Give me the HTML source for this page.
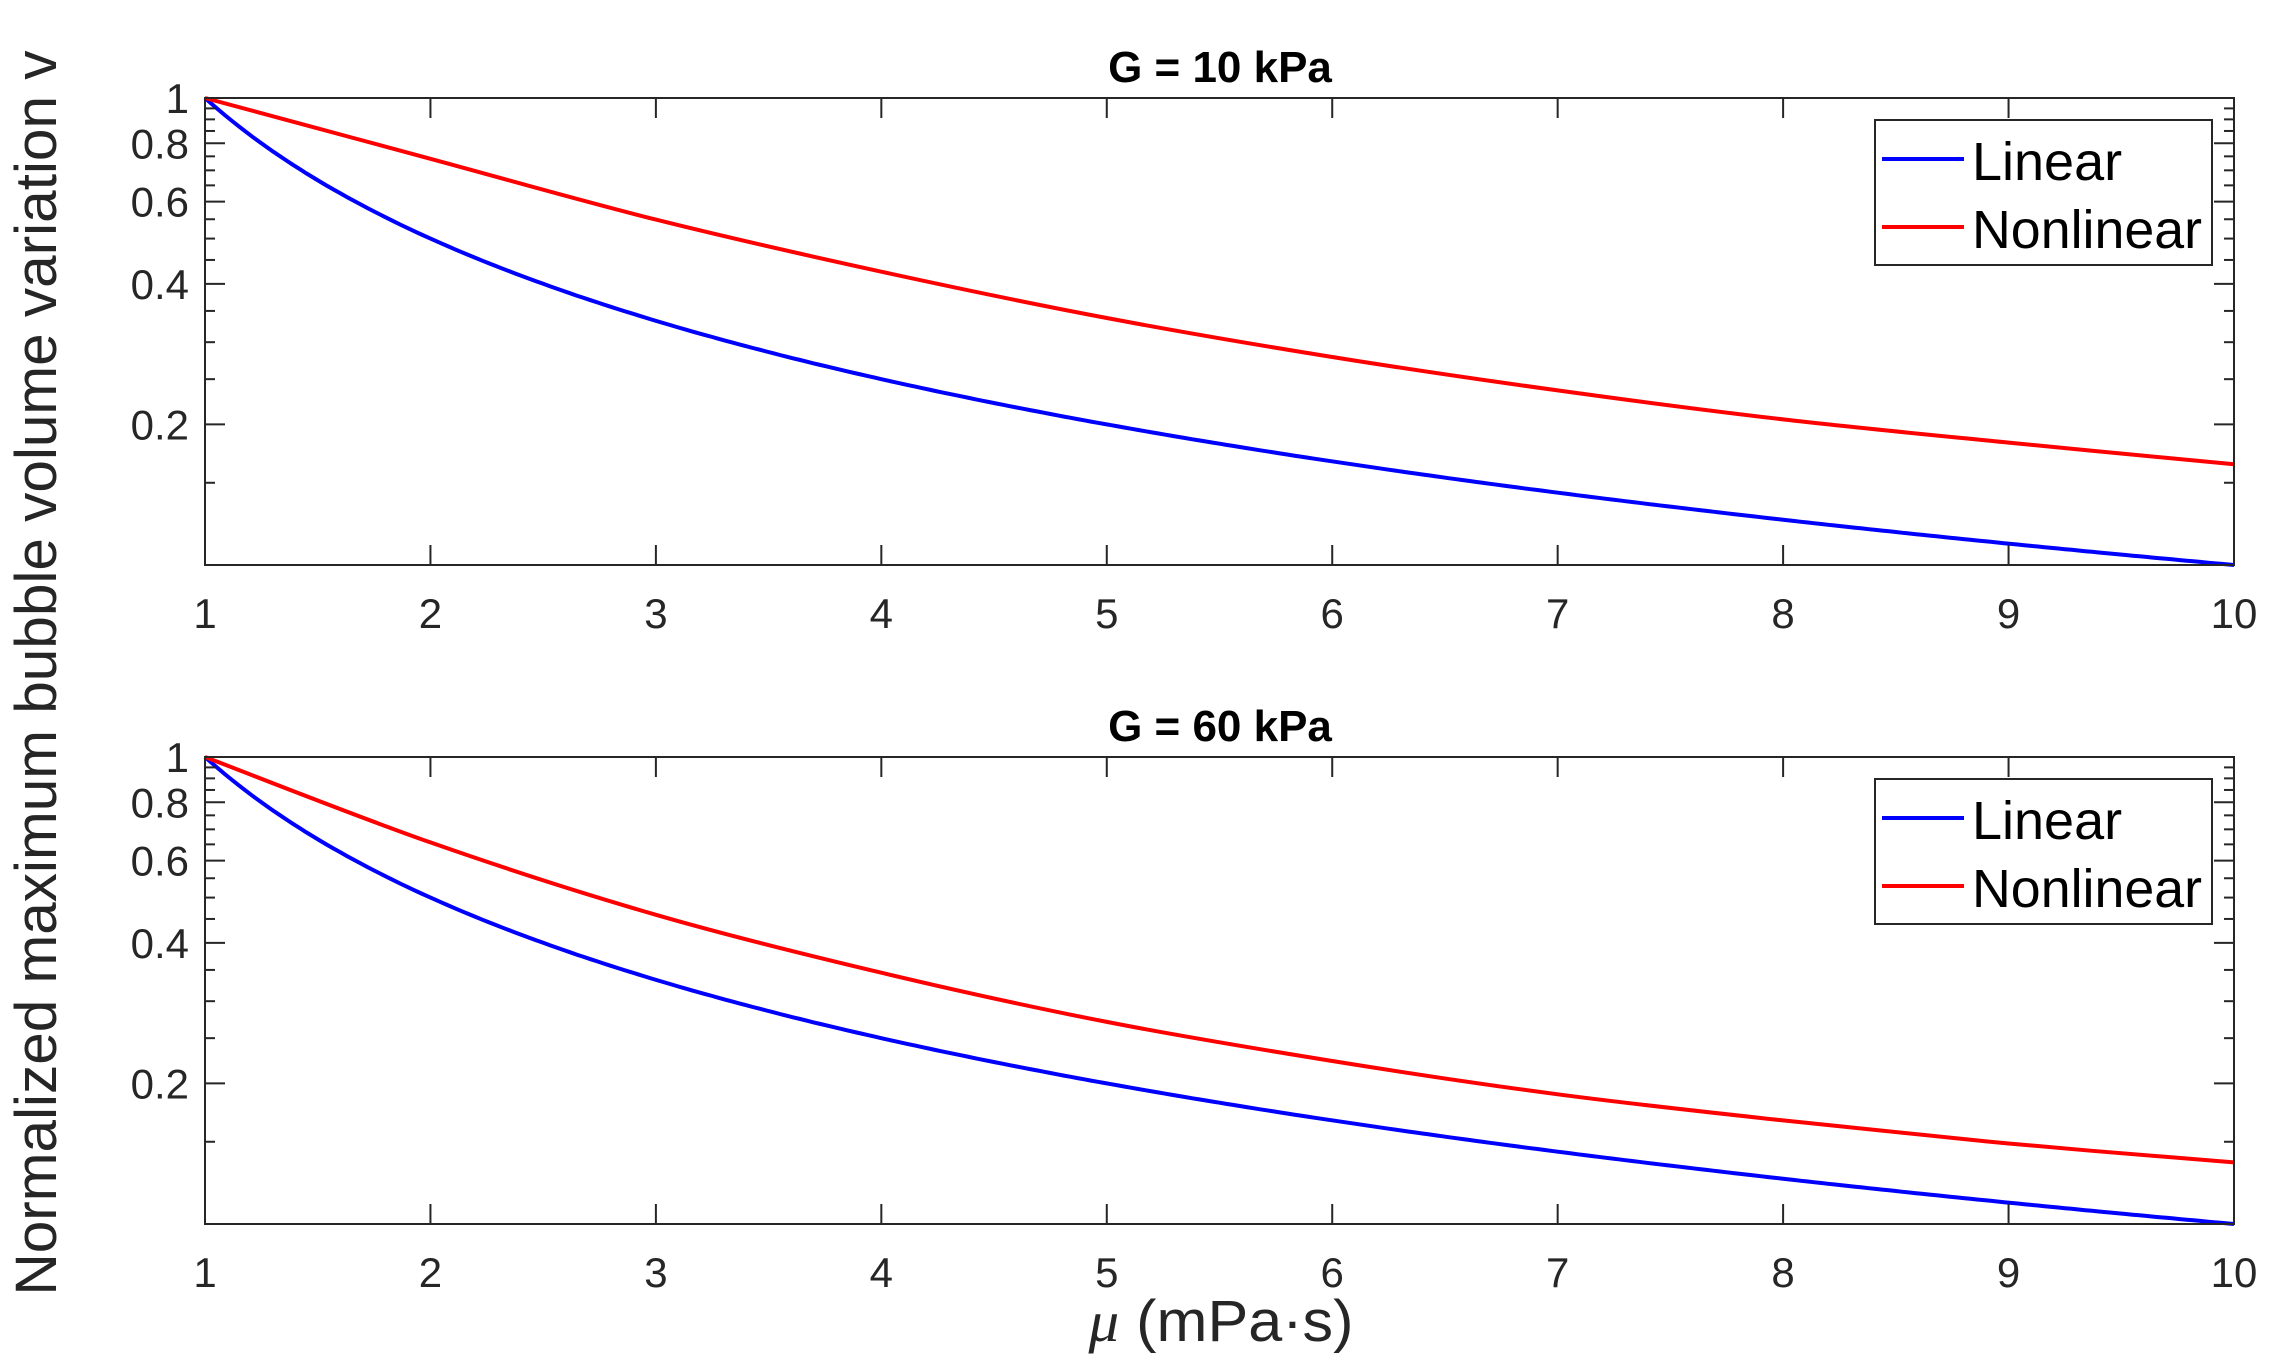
<!DOCTYPE html>
<html><head><meta charset="utf-8"><style>
html,body{margin:0;padding:0;background:#fff}
svg{display:block}
text{font-family:"Liberation Sans",sans-serif;fill:#262626}
</style></head><body>
<svg id="s" width="2270" height="1364" viewBox="0 0 2270 1364" xmlns="http://www.w3.org/2000/svg">
<g id="g"></g>
<text x="1220" y="82" text-anchor="middle" font-size="44" font-weight="bold" style="fill:#000">G = 10 kPa</text>
<text x="1220" y="741" text-anchor="middle" font-size="44" font-weight="bold" style="fill:#000">G = 60 kPa</text>
<text transform="translate(56,673) rotate(-90)" text-anchor="middle" font-size="58" textLength="1245" lengthAdjust="spacingAndGlyphs">Normalized maximum bubble volume variation v</text>
<text x="1221" y="1341" text-anchor="middle" font-size="58" textLength="265" lengthAdjust="spacingAndGlyphs"><tspan font-style="italic" font-family="Liberation Serif">μ</tspan> (mPa·s)</text>
</svg>
<script>
var L=205,R=2234,W=(R-L)/9,DEC=467;
var panels=[{top:98,red:[0,60.8,121.6,173.7,220,259,292.4,321.4,344.6,366.3]},
            {top:757,red:[0,85.4,157.8,215.7,264.9,304,337.3,363.4,386.5,405.4]}];
var h='';
function X(m){return L+(m-1)*W;}
panels.forEach(function(p,i){
  var T=p.top,B=T+DEC;
  var d='';
  for(var k=0;k<=300;k++){var m=1+9*k/300;d+=(k?'L':'M')+X(m).toFixed(1)+' '+(T+Math.log10(m)*DEC).toFixed(1);}
  var r=p.red,pts=[];for(var j=0;j<10;j++)pts.push([X(j+1),T+r[j]]);
  var dr='M'+pts[0][0]+' '+pts[0][1];
  for(var j=0;j<9;j++){var p0=pts[Math.max(j-1,0)],p1=pts[j],p2=pts[j+1],p3=pts[Math.min(j+2,9)];
    dr+='C'+(p1[0]+(p2[0]-p0[0])/6).toFixed(1)+' '+(p1[1]+(p2[1]-p0[1])/6).toFixed(1)+' '+(p2[0]-(p3[0]-p1[0])/6).toFixed(1)+' '+(p2[1]-(p3[1]-p1[1])/6).toFixed(1)+' '+p2[0].toFixed(1)+' '+p2[1].toFixed(1);}
  h+='<path d="'+d+'" fill="none" stroke="#0000ff" stroke-width="4"/>';
  h+='<path d="'+dr+'" fill="none" stroke="#ff0000" stroke-width="4"/>';
  h+='<rect x="'+L+'" y="'+T+'" width="'+(R-L)+'" height="'+DEC+'" fill="none" stroke="#262626" stroke-width="2"/>';
  for(var m=1;m<=10;m++){var x=X(m);
    h+='<line x1="'+x+'" y1="'+B+'" x2="'+x+'" y2="'+(B-20)+'" stroke="#262626" stroke-width="2"/>';
    h+='<line x1="'+x+'" y1="'+T+'" x2="'+x+'" y2="'+(T+20)+'" stroke="#262626" stroke-width="2"/>';
    h+='<text x="'+x+'" y="'+(B+63)+'" text-anchor="middle" font-size="42">'+m+'</text>';}
  var maj=[0.2,0.4,0.6,0.8,1],mins=[0.15,0.25,0.3,0.35,0.45,0.5,0.55,0.65,0.7,0.75,0.85,0.9,0.95];
  maj.concat(mins).forEach(function(v){var y=T-Math.log10(v)*DEC,len=maj.indexOf(v)>=0?20:10;
    h+='<line x1="'+L+'" y1="'+y+'" x2="'+(L+len)+'" y2="'+y+'" stroke="#262626" stroke-width="2"/>';
    h+='<line x1="'+R+'" y1="'+y+'" x2="'+(R-len)+'" y2="'+y+'" stroke="#262626" stroke-width="2"/>';});
  maj.forEach(function(v){var y=T-Math.log10(v)*DEC;
    h+='<text x="189" y="'+(y+15)+'" text-anchor="end" font-size="42">'+v+'</text>';});
  var o=i?0:-659;
  h+='<rect x="1875" y="'+(779+o)+'" width="337" height="145" fill="#fff" stroke="#262626" stroke-width="2"/>';
  h+='<line x1="1882" y1="'+(818+o)+'" x2="1964" y2="'+(818+o)+'" stroke="#0000ff" stroke-width="4"/>';
  h+='<line x1="1882" y1="'+(886+o)+'" x2="1964" y2="'+(886+o)+'" stroke="#ff0000" stroke-width="4"/>';
  h+='<text x="1972" y="'+(839+o)+'" font-size="54" style="fill:#000">Linear</text>';
  h+='<text x="1972" y="'+(907+o)+'" font-size="54" textLength="230" lengthAdjust="spacingAndGlyphs" style="fill:#000">Nonlinear</text>';
});
document.getElementById('g').innerHTML=h;
</script>
</body></html>
